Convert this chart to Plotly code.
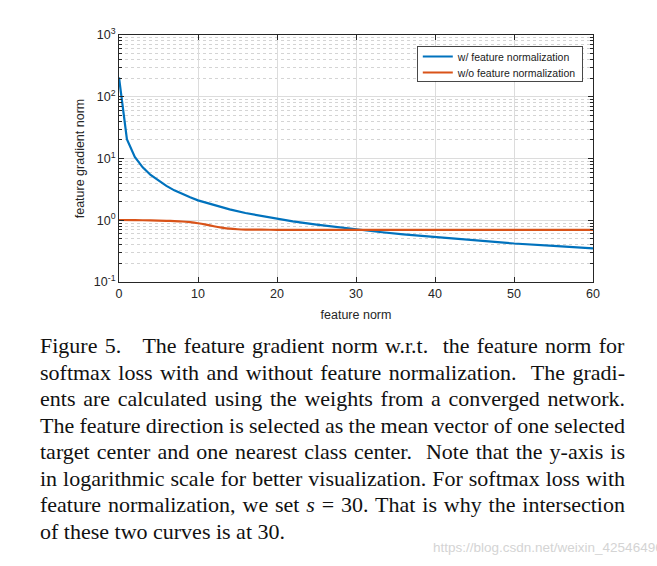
import plotly.graph_objects as go

# ---- data ----
norm_x_with = [0, 1, 2, 3, 4, 5, 6, 7, 8, 9, 10, 12, 14, 16, 18, 20, 22, 25, 28, 30, 33, 36, 40, 45, 50, 55, 60]
grad_with = [205, 20.5, 10.6, 7.2, 5.4, 4.35, 3.6, 3.05, 2.65, 2.35, 2.1, 1.75, 1.5, 1.31, 1.17, 1.05,
             0.96, 0.85, 0.76, 0.71, 0.645, 0.59, 0.535, 0.47, 0.42, 0.385, 0.35]

norm_x_without = [0, 2, 4, 6, 7, 8, 9, 10, 11, 12, 13, 14, 15, 16, 18, 20, 30, 40, 50, 60]
grad_without = [1.01, 1.005, 0.995, 0.98, 0.97, 0.955, 0.93, 0.895, 0.85, 0.80, 0.76, 0.73, 0.715,
                0.707, 0.703, 0.70, 0.70, 0.70, 0.70, 0.70]

series_names = ["w/ feature normalization", "w/o feature normalization"]
x_ticks = [0, 10, 20, 30, 40, 50, 60]
y_ticks = [0.1, 1, 10, 100, 1000]
y_tick_labels = ["10<sup>-1</sup>", "10<sup>0</sup>", "10<sup>1</sup>", "10<sup>2</sup>", "10<sup>3</sup>"]

caption_lines = [
    "Figure 5.\u00a0\u00a0 The feature gradient norm w.r.t.\u00a0 the feature norm for",
    "softmax loss with and without feature normalization.\u00a0 The gradi-",
    "ents are calculated using the weights from a converged network.",
    "The feature direction is selected as the mean vector of one selected",
    "target center and one nearest class center.\u00a0 Note that the y-axis is",
    "in logarithmic scale for better visualization. For softmax loss with",
    "feature normalization, we set <i>s</i> = 30. That is why the intersection",
    "of these two curves is at 30.",
]
watermark = "https://blog.csdn.net/weixin_42546496"

# ---- layout geometry ----
W, H = 657, 566
L, R, T, B = 119, 593, 35, 282

def px_x(px):
    return (px - L) / (R - L)

def px_y(py):
    return (B - py) / (B - T)

AX = "#262626"
fig = go.Figure()
fig.add_trace(go.Scatter(x=norm_x_with, y=grad_with, mode="lines", name=series_names[0],
                         line=dict(color="#0072BD", width=2.2)))
fig.add_trace(go.Scatter(x=norm_x_without, y=grad_without, mode="lines", name=series_names[1],
                         line=dict(color="#D95319", width=2.2, shape="spline", smoothing=0.6)))

fig.update_layout(
    width=W, height=H,
    margin=dict(l=L, r=W - R, t=T, b=H - B, autoexpand=False),
    paper_bgcolor="white", plot_bgcolor="white",
    font=dict(family="Liberation Sans, Arial, sans-serif", size=12, color=AX),
    showlegend=True,
    legend=dict(x=px_x(417), y=px_y(46), xanchor="left", yanchor="top",
                bgcolor="white", bordercolor="#1a1a1a", borderwidth=0.8,
                font=dict(size=10.5, color="#1a1a1a"), tracegroupgap=0,
                itemwidth=30),
)
fig.update_xaxes(
    range=[0, 60], tickvals=x_ticks, ticks="inside", ticklen=5, tickcolor=AX,
    showline=True, linecolor=AX, linewidth=1, mirror="ticks",
    showgrid=True, gridcolor="#dcdcdc", gridwidth=1, zeroline=False,
    tickfont=dict(size=12.5, color=AX),
    title=dict(text="feature norm", font=dict(size=12.5, color=AX), standoff=10),
)
fig.update_yaxes(
    type="log", range=[-1, 3], tickmode="array", tickvals=y_ticks, ticktext=y_tick_labels,
    ticks="inside", ticklen=5, tickcolor=AX,
    showline=True, linecolor=AX, linewidth=1, mirror="ticks",
    showgrid=True, gridcolor="#dcdcdc", gridwidth=1, zeroline=False,
    tickfont=dict(size=12.5, color=AX),
    minor=dict(dtick="D1", ticks="inside", ticklen=3, tickcolor=AX,
               showgrid=True, gridcolor="#d4d4d4", griddash="dot", gridwidth=1),
    title=dict(text="feature gradient norm", font=dict(size=12.5, color=AX), standoff=6),
)

annotations = []
line_centers = [347, 373.5, 400, 426.5, 453, 479.5, 506, 532.5]
for i, txt in enumerate(caption_lines):
    annotations.append(dict(
        text=txt, xref="paper", yref="paper", x=px_x(40), y=px_y(line_centers[i] - 1.5),
        xanchor="left", yanchor="middle", showarrow=False, align="left",
        font=dict(family="Liberation Serif, Times New Roman, serif", size=22, color="#111111"),
    ))
annotations.append(dict(
    text=watermark, xref="paper", yref="paper", x=px_x(431), y=px_y(548),
    xanchor="left", yanchor="middle", showarrow=False,
    font=dict(family="Liberation Sans, Arial, sans-serif", size=13.5, color="#d4d4d4"),
))
fig.update_layout(annotations=annotations)

js = """
(function(){
  var gd = document.getElementById('{plot_id}');
  function justify(){
    var n = %d, left = 40, width = 585;
    var svgRect = gd.querySelector('.main-svg').getBoundingClientRect();
    for (var i = 0; i < n; i++) {
      var g = gd.querySelector('.annotation[data-index="' + i + '"]');
      if (!g) continue;
      var t = g.querySelector('.annotation-text');
      if (!t) continue;
      t.style.wordSpacing = '0px';
      t.removeAttribute('transform');
      var r = t.getBoundingClientRect();
      var s = t.textContent;
      var k = (s.match(/[ \\u00a0]/g) || []).length;
      if (i < n - 1 && k > 0) {
        t.style.wordSpacing = ((width - r.width) / k) + 'px';
      }
      var r2 = t.getBoundingClientRect();
      var dx = (svgRect.left + left) - r2.left;
      t.setAttribute('transform', 'translate(' + dx + ',0)');
    }
  }
  function tightLegend(){
    try {
      var lg = gd.querySelector('.legend');
      if (!lg) return;
      var tr = lg.querySelectorAll('.traces');
      var step = 16, first = 10.5;
      for (var j = 0; j < tr.length; j++) {
        var tf = tr[j].getAttribute('transform') || '';
        var m = tf.match(/translate\\(([-\\d.e]+)[ ,]+([-\\d.e]+)\\)/);
        var tx = m ? parseFloat(m[1]) : 0;
        tr[j].setAttribute('transform', 'translate(' + tx + ',' + (first + j * step) + ')');
      }
      var bg = lg.querySelector('rect.bg');
      if (bg) { bg.setAttribute('height', 35); }
    } catch (e) {}
  }
  justify();
  tightLegend();
  setTimeout(function(){ justify(); tightLegend(); }, 50);
})();
""" % len(caption_lines)

fig.write_html("out.html", post_script=js)
